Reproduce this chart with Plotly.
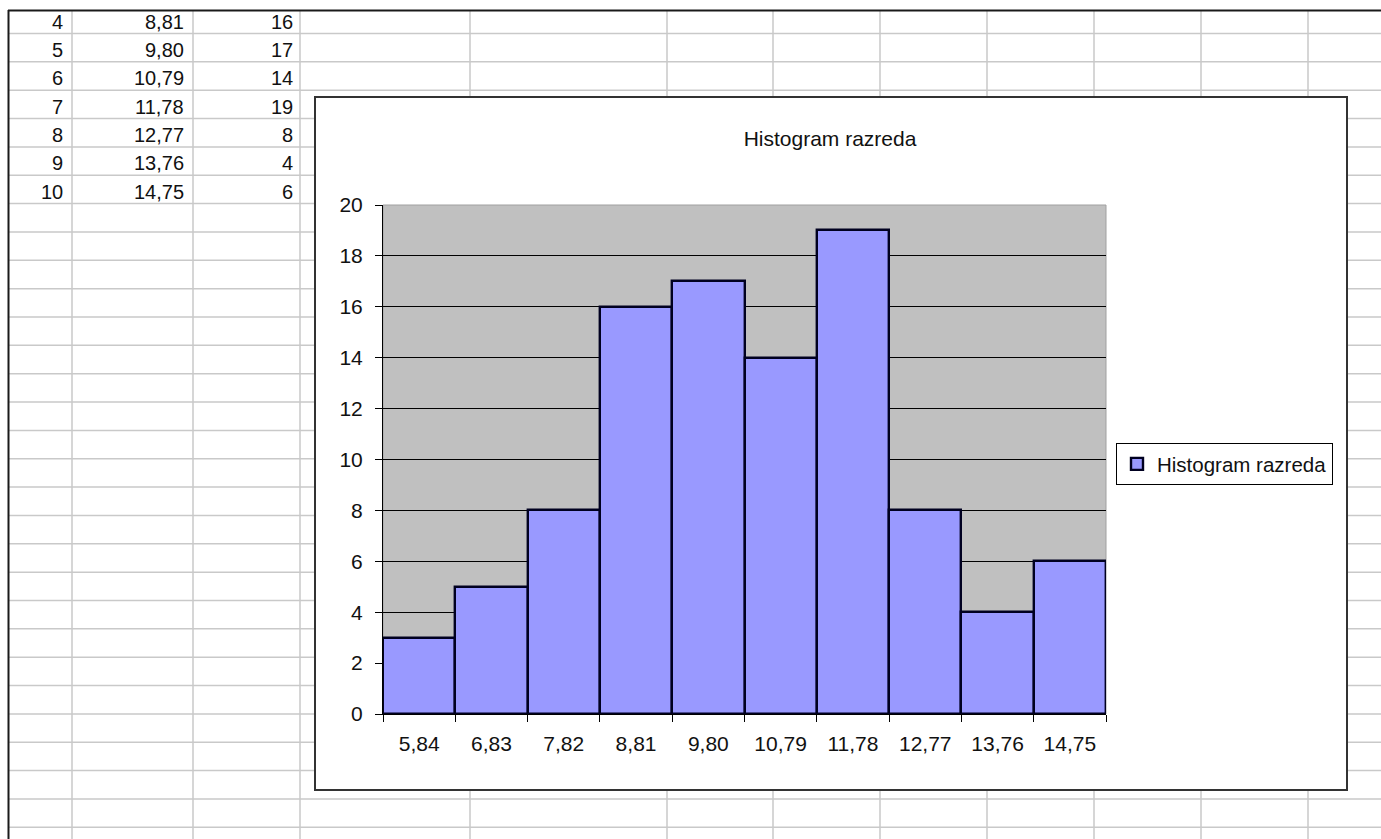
import plotly.graph_objects as go

# Class data: class number, class mark (bin label), frequency
class_no = [1, 2, 3, 4, 5, 6, 7, 8, 9, 10]
bin_labels = ["5,84", "6,83", "7,82", "8,81", "9,80", "10,79", "11,78", "12,77", "13,76", "14,75"]
counts = [3, 5, 8, 16, 17, 14, 19, 8, 4, 6]
series_name = "Histogram razreda"
chart_title = "Histogram razreda"
first_visible_row = 4  # worksheet scrolled so that class 4 is the top row shown

W, H = 1381, 839
# plot area in pixels
PL, PR, PT, PB = 383, 1106, 205, 714

FONT = "Arial, Liberation Sans, sans-serif"
TXT = "#111111"


def fx(x):
    return (x - PL) / (PR - PL)


def fy(y):
    return (PB - y) / (PB - PT)


shapes = []
GRID = "#c9c9c9"

# worksheet cell grid
ROW0, ROW_H = 33.5, 28.35
row_lines = []
y = ROW0
while y < H:
    row_lines.append(y)
    y += ROW_H
col_lines = [72, 193, 300, 470, 667, 773, 880, 987, 1094, 1201, 1308]

for yy in row_lines:
    shapes.append(dict(type="line", xref="paper", yref="paper", layer="below",
                       x0=fx(8), x1=fx(W), y0=fy(yy), y1=fy(yy),
                       line=dict(color=GRID, width=1.5)))
for xx in col_lines:
    shapes.append(dict(type="line", xref="paper", yref="paper", layer="below",
                       x0=fx(xx), x1=fx(xx), y0=fy(10), y1=fy(H),
                       line=dict(color=GRID, width=1.5)))
# worksheet frame edges
shapes.append(dict(type="line", xref="paper", yref="paper", layer="below",
                   x0=fx(8), x1=fx(W), y0=fy(10.5), y1=fy(10.5),
                   line=dict(color="#1a1a1a", width=2)))
shapes.append(dict(type="line", xref="paper", yref="paper", layer="below",
                   x0=fx(8.5), x1=fx(8.5), y0=fy(10), y1=fy(H),
                   line=dict(color="#1a1a1a", width=2)))

# chart object frame
shapes.append(dict(type="rect", xref="paper", yref="paper", layer="below",
                   x0=fx(315), x1=fx(1347), y0=fy(97), y1=fy(790),
                   fillcolor="white", line=dict(color="#333333", width=2)))
# plot area background
shapes.append(dict(type="rect", xref="paper", yref="paper", layer="below",
                   x0=0, x1=1, y0=0, y1=1,
                   fillcolor="#c0c0c0", line=dict(color="#a0a0a0", width=1)))

# table cell text
annotations = []
col_right = [65, 186, 295]
vis = [i for i, c in enumerate(class_no) if c >= first_visible_row]
for r, i in enumerate(vis):
    yc = ROW0 + ROW_H * r - 12
    for cx, txt in zip(col_right, [str(class_no[i]), bin_labels[i], str(counts[i])]):
        annotations.append(dict(xref="paper", yref="paper", x=fx(cx), y=fy(yc),
                                xanchor="right", yanchor="middle", showarrow=False,
                                text=txt, font=dict(family=FONT, size=20, color=TXT)))

fig = go.Figure()
fig.add_trace(go.Bar(
    x=bin_labels, y=counts, name=series_name,
    marker=dict(color="#9999ff", line=dict(color="#000020", width=2.4)),
    showlegend=True,
))

fig.update_layout(
    width=W, height=H, autosize=False,
    margin=dict(l=PL, r=W - PR, t=PT, b=H - PB, pad=0),
    paper_bgcolor="white", plot_bgcolor="rgba(0,0,0,0)",
    bargap=0,
    font=dict(family=FONT, size=21, color=TXT),
    title=dict(text=chart_title, x=fx(830), xref="paper", xanchor="center",
               y=1 - 139 / H, yanchor="middle", yref="container",
               font=dict(family=FONT, size=21, color=TXT)),
    showlegend=True,
    legend=dict(x=fx(1116), y=fy(443), xanchor="left", yanchor="top",
                bgcolor="white", bordercolor="#000000", borderwidth=1,
                font=dict(family=FONT, size=20.5, color=TXT),
                itemwidth=30),
    shapes=shapes,
    annotations=annotations,
)
fig.update_xaxes(type="category", tickson="boundaries", ticks="outside", ticklen=7,
                 tickcolor="black", tickwidth=1, showline=True, linecolor="black",
                 linewidth=1, showgrid=False, ticklabelstandoff=11,
                 tickfont=dict(family=FONT, size=21, color=TXT))
fig.update_yaxes(range=[0, 20], dtick=2, tick0=0, ticks="outside", ticklen=7,
                 tickcolor="black", tickwidth=1, showline=True, linecolor="black",
                 linewidth=1, showgrid=True, gridcolor="black", gridwidth=1,
                 zeroline=False, ticklabelstandoff=8,
                 tickfont=dict(family=FONT, size=21, color=TXT))

fig.write_html("out.html", config={"displayModeBar": False})
